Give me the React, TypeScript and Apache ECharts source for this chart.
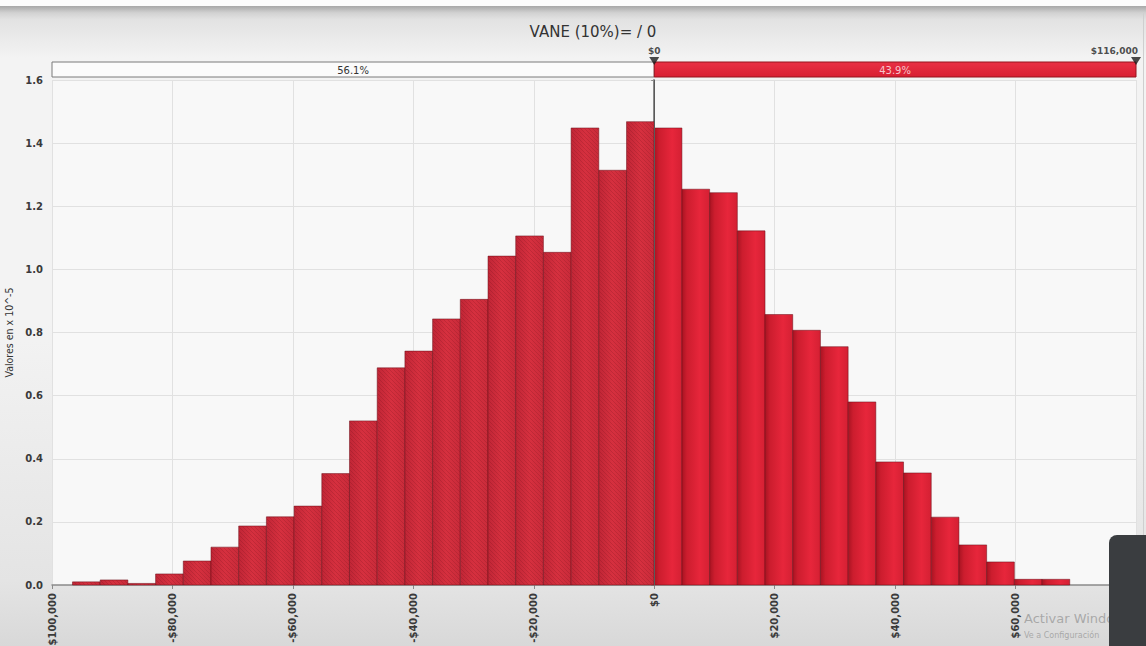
import React, { useEffect, useRef } from 'react';
import * as echarts from 'echarts';

// ---- data ----
const binStart = -96600;
const binWidth = 4600;
const densities = [
  0.010, 0.016, 0.005, 0.035, 0.076, 0.120, 0.187, 0.216, 0.250, 0.353,
  0.520, 0.688, 0.741, 0.843, 0.905, 1.042, 1.106, 1.054, 1.448, 1.314,
  1.468, 1.448, 1.254, 1.243, 1.122, 0.857, 0.807, 0.755, 0.580, 0.390,
  0.355, 0.215, 0.127, 0.073, 0.018, 0.018,
];
const xTicks = [-100000, -80000, -60000, -40000, -20000, 0, 20000, 40000, 60000];
const delimiterEdges = [-100000, 0, 80000];
const delimiterLabels = ['56.1%', '43.9%'];
const markerValues = [0, 80000];
const markerLabels = ['$0', '$116,000'];
const titleText = 'VANE (10%)= / 0';
const yAxisName = 'Valores en x 10^-5';

const FONT = "'DejaVu Sans', Verdana, sans-serif";

function money(v: number): string {
  const s = Math.abs(v).toLocaleString('en-US');
  return (v < 0 ? '-$' : '$') + s;
}

const hatchSvg =
  "<svg xmlns='http://www.w3.org/2000/svg' width='4' height='4'>" +
  "<path d='M-1,-1 L5,5 M-1,3 L1,5 M3,-1 L5,1' stroke='rgba(70,0,10,0.16)' stroke-width='0.9'/></svg>";
const hatchUrl = 'data:image/svg+xml;charset=utf-8,' + encodeURIComponent(hatchSvg);

export default function App() {
  const ref = useRef<HTMLDivElement>(null);

  useEffect(() => {
    document.body.style.margin = '0';
    if (!ref.current) return;
    const chart = echarts.init(ref.current, undefined, { renderer: 'svg' });

    const barData = densities.map((d, i) => [binStart + i * binWidth, binStart + (i + 1) * binWidth, d]);
    const delimData = delimiterLabels.map((l, i) => [delimiterEdges[i], delimiterEdges[i + 1], i]);

    const rightGrad = () =>
      new echarts.graphic.LinearGradient(0, 0, 1, 0, [
        { offset: 0, color: '#a81422' },
        { offset: 0.18, color: '#cc1d2e' },
        { offset: 0.65, color: '#e7263b' },
        { offset: 1, color: '#d42033' },
      ]);
    const leftGrad = () =>
      new echarts.graphic.LinearGradient(0, 0, 1, 0, [
        { offset: 0, color: '#c02636' },
        { offset: 0.5, color: '#d6303f' },
        { offset: 1, color: '#c92b3a' },
      ]);

    const option: any = {
      animation: false,
      backgroundColor: new echarts.graphic.LinearGradient(0, 0, 0, 1, [
        { offset: 0, color: '#fdfdfd' },
        { offset: 0.009, color: '#fdfdfd' },
        { offset: 0.0095, color: '#a9a9a9' },
        { offset: 0.02, color: '#d2d2d2' },
        { offset: 0.03, color: '#e2e2e2' },
        { offset: 0.09, color: '#f3f3f3' },
        { offset: 0.5, color: '#f3f3f3' },
        { offset: 0.9, color: '#e4e4e4' },
        { offset: 1, color: '#d8d8d8' },
      ]),
      graphic: [
        {
          type: 'text',
          x: 593,
          y: 32,
          style: {
            text: titleText,
            align: 'center',
            verticalAlign: 'middle',
            font: `15px ${FONT}`,
            fill: '#333',
          },
        },
        {
          type: 'line',
          shape: { x1: 1143.5, y1: 13, x2: 1143.5, y2: 646 },
          style: { stroke: '#cfcfcf', lineWidth: 1 },
        },
        {
          type: 'text',
          x: 1024,
          y: 612,
          style: { text: 'Activar Windows', font: `13px ${FONT}`, fill: 'rgba(150,150,150,0.75)' },
          z: 50,
        },
        {
          type: 'text',
          x: 1024,
          y: 631,
          style: { text: 'Ve a Configuración', font: `8px ${FONT}`, fill: 'rgba(150,150,150,0.75)' },
          z: 50,
        },
        {
          type: 'rect',
          shape: { x: 1109, y: 535, width: 60, height: 140, r: 8 },
          style: { fill: '#3a3d40' },
          z: 100,
        },
      ],
      grid: [
        {
          left: 52, right: 10, top: 80, bottom: 61,
          show: true, backgroundColor: '#f8f8f8', borderWidth: 0,
          containLabel: false, outerBoundsMode: 'none',
        },
        {
          left: 52, right: 10, top: 62, height: 15,
          containLabel: false, outerBoundsMode: 'none',
        },
      ],
      xAxis: [
        {
          type: 'value',
          gridIndex: 0,
          min: -100000,
          max: 80000,
          interval: 20000,
          axisLine: { show: true, onZero: false, lineStyle: { color: '#8a8a8a', width: 1.5 } },
          axisTick: { show: true, inside: false, length: 4, lineStyle: { color: '#8a8a8a' } },
          axisLabel: {
            rotate: 90,
            margin: 8,
            fontSize: 10,
            fontFamily: FONT,
            fontWeight: 'bold',
            color: '#3a3a3a',
            showMaxLabel: false,
            formatter: (v: number) => (xTicks.indexOf(v) >= 0 ? money(v) : ''),
          },
          splitLine: { show: true, lineStyle: { color: '#e1e1e1', width: 1 } },
        },
        {
          type: 'value',
          gridIndex: 1,
          min: -100000,
          max: 80000,
          show: false,
        },
      ],
      yAxis: [
        {
          type: 'value',
          gridIndex: 0,
          min: 0,
          max: 1.6,
          interval: 0.2,
          name: yAxisName,
          nameLocation: 'middle',
          nameGap: 28,
          nameTextStyle: {
            fontFamily: "'DejaVu Sans Condensed', 'DejaVu Sans', sans-serif",
            fontSize: 10.5,
            color: '#333',
          },
          axisLine: { show: true, lineStyle: { color: '#8a8a8a', width: 2 } },
          axisTick: { show: true, length: 3, lineStyle: { color: '#8a8a8a' } },
          axisLabel: {
            margin: 9,
            fontSize: 10,
            fontFamily: FONT,
            fontWeight: 'bold',
            color: '#3a3a3a',
            formatter: (v: number) => v.toFixed(1),
          },
          splitLine: { show: true, lineStyle: { color: '#e1e1e1', width: 1 } },
        },
        { type: 'value', gridIndex: 1, min: 0, max: 1, show: false },
      ],
      series: [
        {
          type: 'custom',
          name: 'histogram',
          xAxisIndex: 0,
          yAxisIndex: 0,
          data: barData,
          encode: { x: [0, 1], y: 2 },
          renderItem: (params: any, api: any) => {
            const x0 = api.value(0);
            const x1 = api.value(1);
            const v = api.value(2);
            const p0 = api.coord([x0, v]);
            const p1 = api.coord([x1, 0]);
            const shape = { x: p0[0], y: p0[1], width: p1[0] - p0[0], height: p1[1] - p0[1] };
            const isLeft = x1 <= 1000;
            const children: any[] = [
              {
                type: 'rect',
                shape,
                style: {
                  fill: isLeft ? leftGrad() : rightGrad(),
                  stroke: 'rgba(105,12,22,0.5)',
                  lineWidth: 1,
                },
              },
            ];
            if (isLeft) {
              children.push({
                type: 'rect',
                shape: { x: shape.x + 0.5, y: shape.y + 0.5, width: shape.width - 1, height: Math.max(0, shape.height - 1) },
                style: {
                  fill: { image: hatchUrl, repeat: 'repeat', imageWidth: 4, imageHeight: 4 },
                },
                silent: true,
              });
            }
            return { type: 'group', children };
          },
          markLine: {
            silent: true,
            symbol: 'none',
            label: { show: false },
            lineStyle: { color: '#5a5a5a', width: 1, type: 'solid' },
            data: [{ xAxis: 0 }],
          },
          z: 3,
        },
        {
          type: 'custom',
          name: 'delimiter',
          xAxisIndex: 1,
          yAxisIndex: 1,
          data: delimData,
          encode: { x: [0, 1] },
          renderItem: (params: any, api: any) => {
            const x0 = api.value(0);
            const x1 = api.value(1);
            const idx = api.value(2);
            const p0 = api.coord([x0, 1]);
            const p1 = api.coord([x1, 0]);
            const shape = { x: p0[0], y: p0[1], width: p1[0] - p0[0], height: p1[1] - p0[1] };
            const isRed = idx === 1;
            return {
              type: 'group',
              children: [
                {
                  type: 'rect',
                  shape,
                  style: {
                    fill: isRed
                      ? new echarts.graphic.LinearGradient(0, 0, 0, 1, [
                          { offset: 0, color: '#e93044' },
                          { offset: 1, color: '#d81f32' },
                        ])
                      : '#fbfbfb',
                    stroke: isRed ? '#95151f' : '#7a7a7a',
                    lineWidth: 1,
                  },
                },
                {
                  type: 'text',
                  x: shape.x + shape.width / 2,
                  y: shape.y + shape.height / 2 + 0.5,
                  style: {
                    text: delimiterLabels[idx],
                    align: 'center',
                    verticalAlign: 'middle',
                    font: `10px ${FONT}`,
                    fill: isRed ? '#f6c4ca' : '#333',
                  },
                },
              ],
            };
          },
          z: 4,
        },
        {
          type: 'scatter',
          name: 'markers',
          xAxisIndex: 1,
          yAxisIndex: 1,
          symbol: 'triangle',
          symbolRotate: 180,
          symbolSize: [10, 8],
          symbolOffset: [0, -1],
          itemStyle: { color: '#1b1b1b' },
          label: {
            show: true,
            position: 'top',
            distance: 2,
            fontSize: 9,
            fontFamily: FONT,
            fontWeight: 'bold',
            color: '#222',
            formatter: (p: any) => markerLabels[p.dataIndex],
          },
          data: markerValues.map((v, i) =>
            i === markerValues.length - 1
              ? { value: [v, 1], label: { align: 'right', offset: [2, 0] } }
              : { value: [v, 1] }
          ),
          z: 6,
        },
      ],
    };

    chart.setOption(option);
    return () => chart.dispose();
  }, []);

  return <div ref={ref} style={{ width: 1146, height: 646 }} />;
}
